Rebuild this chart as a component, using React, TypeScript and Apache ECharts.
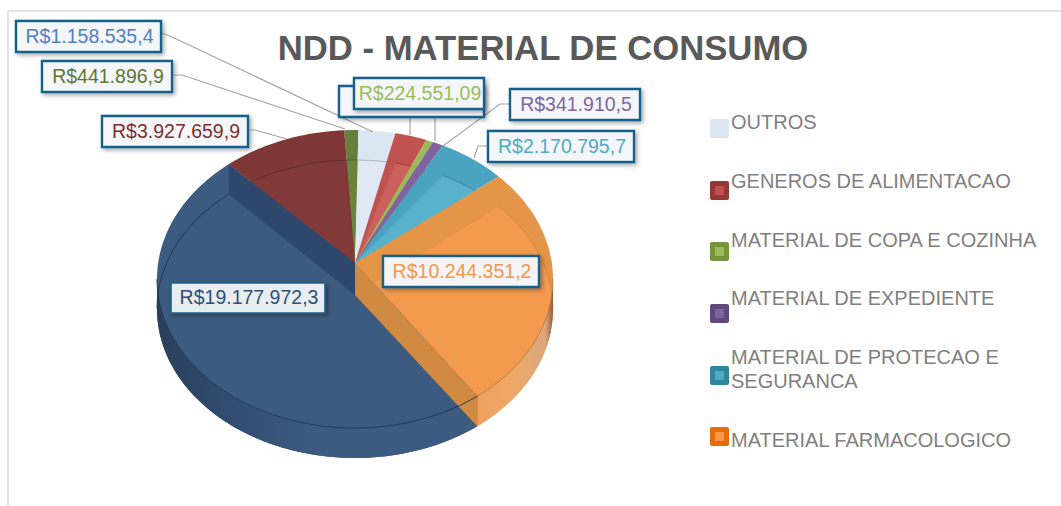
import React, { useEffect, useRef } from "react";
import * as echarts from "echarts";

const titleText = "NDD - MATERIAL DE CONSUMO";
const categories = [
  "OUTROS",
  "GENEROS DE ALIMENTACAO",
  "MATERIAL DE COPA E COZINHA",
  "MATERIAL DE EXPEDIENTE",
  "MATERIAL DE PROTECAO E\nSEGURANCA",
  "MATERIAL FARMACOLOGICO",
  "MATERIAL HOSPITALAR",
  "MATERIAL LABORATORIAL",
  "OUTROS MATERIAIS",
];
// The value of the second slice is hidden behind another label in the picture: estimated from its angle.
const values = [1158535.4, 1000000, 224551.09, 341910.5, 2170795.7, 10244351.2, 19177972.3, 3927659.9, 441896.9];
const labels = [
  "R$1.158.535,4",
  "",
  "R$224.551,09",
  "R$341.910,5",
  "R$2.170.795,7",
  "R$10.244.351,2",
  "R$19.177.972,3",
  "R$3.927.659,9",
  "R$441.896,9",
];

// styles
const faceColors = ["#DCE6F2", "#C0524F", "#9BBB59", "#8064A2", "#4AA3BF", "#E59548", "#3D5B80", "#7E3735", "#667F3A"];
const floorColors = ["#DFE8F3", "#CB605D", "#A2C160", "#8A6FAB", "#58B2CB", "#F39A4F", "#3D5B80", "#823A38", "#6A843C"];
const textColors = ["#4F81BD", "", "#9BBB59", "#8064A2", "#4BACC6", "#F79646", "#2F4F7A", "#7E2F2D", "#5F7530"];
const legendBorder = ["#DCE6F2", "#953735", "#77933C", "#604A7B", "#31859C", "#E46C0A"];
const legendInner = ["#DCE6F2", "#C0504D", "#9BBB59", "#8064A2", "#4BACC6", "#F79646"];

// layout
const cx = 355, cy = 279, rx = 198, ry = 149, depth = 30, apexY = 263, apexFloorY = 295;
const startAngle = (1 * Math.PI) / 180;
const legendRowY = [119, 181, 242, 304, 366, 427];
const legendTextY = [122, 181, 240, 298, 369, 440];
// [left, top, width, height] per label
const boxes: Record<number, number[]> = {
  0: [16, 21, 145, 31],
  8: [42, 61, 130, 31],
  7: [102, 116, 146, 31],
  2: [354, 78, 130, 31],
  3: [510, 89, 130, 31],
  4: [488, 131, 146, 31],
  5: [383, 256, 156, 31],
  6: [171, 283, 154, 30],
};
const leaders = [
  [[161, 33], [170, 36], [373, 132]],
  [[172, 75], [182, 75], [345, 129]],
  [[248, 130], [255, 130], [287, 139]],
  [[410, 117], [410, 135]],
  [[435, 117], [435, 141]],
  [[510, 104], [500, 104], [443, 146]],
  [[488, 146], [478, 146], [474, 158]],
];

const total = values.reduce((a, b) => a + b, 0);
const topPt = (t: number) => [cx + rx * Math.sin(t), cy - ry * Math.cos(t)];
const floorPt = (t: number) => [cx + rx * Math.sin(t), cy + depth - ry * Math.cos(t)];
function arc(a: number, b: number, f: (t: number) => number[]) {
  const n = Math.max(2, Math.ceil(Math.abs(b - a) / 0.03));
  const pts: number[][] = [];
  for (let i = 0; i <= n; i++) pts.push(f(a + ((b - a) * i) / n));
  return pts;
}
const orders = [3, 4, 5, 6, 7, 8, 11, 2, 1];
const RIGHT = Math.PI / 2;
const LEFT = (3 * Math.PI) / 2;

function renderItem(params: any, api: any) {
  const i = params.dataIndex;
  let before = 0;
  for (let k = 0; k < i; k++) before += values[k];
  const a = startAngle + (before / total) * Math.PI * 2;
  const b = a + (api.value(0) / total) * Math.PI * 2;
  const base = orders[i] * 10;
  const front = i === 5 || i === 6;
  const kids: any[] = [];
  const poly = (points: number[][], fill: any, z: number) =>
    kids.push({ type: "polygon", z2: base + z, shape: { points }, style: { fill } });
  const line = (points: number[][], stroke: string, z: number, width = 1) =>
    kids.push({ type: "polyline", z2: base + z, shape: { points }, style: { stroke, lineWidth: width, fill: "none" } });

  poly([[cx, apexY], ...arc(a, b, topPt)], faceColors[i], 0);
  poly([[cx, front ? apexFloorY : apexY], ...arc(a, b, floorPt)], floorColors[i], 1);
  if (!front) line(arc(a, b, floorPt), "rgba(0,0,0,0.22)", 2);

  if (front) {
    // the side wall is visible only on the near half of the pie
    const from = Math.max(a, RIGHT);
    const to = Math.min(b, LEFT);
    const topArc = arc(from, to, topPt);
    const floorArc = arc(from, to, floorPt);
    const fill =
      i === 6
        ? { type: "linear", x: 0, y: 0, x2: 1, y2: 0, colorStops: [
            { offset: 0, color: "#2A3E5C" }, { offset: 0.22, color: "#324C70" }, { offset: 0.5, color: "#3D5B80" }, { offset: 1, color: "#3D5B80" } ] }
        : { type: "linear", x: 0, y: 0, x2: 1, y2: 0, colorStops: [
            { offset: 0, color: "#EFA05C" }, { offset: 0.5, color: "#EDA869" }, { offset: 0.9, color: "#D9A77C" }, { offset: 1, color: "#9A5A3A" } ] };
    poly([...topArc, ...floorArc.slice().reverse()], fill, 2);
    line(topArc, i === 6 ? "#223A5C" : "rgba(150,95,50,0.5)", 3);
    // the far part of the rim shows as a thin inner line
    if (i === 6) line(arc(LEFT, b, floorPt), "rgba(20,40,70,0.7)", 3);
    if (i === 5) line(arc(a, RIGHT, floorPt), "rgba(170,110,60,0.35)", 3);
  }
  if (i === 6) {
    // end edge of the large slice
    poly([[cx, apexY], topPt(b), floorPt(b), [cx, apexFloorY]], "#2E476D", 4);
  }
  if (i === 5) {
    // start-side inner wall lying on the neighbouring slice
    poly([[cx, apexY], topPt(b), floorPt(b), [cx, apexFloorY]], "#D08A42", 80);
    kids.push({ type: "polyline", z2: 300, shape: { points: arc(b, b + 0.19, topPt) }, style: { stroke: "#223A5C", lineWidth: 1, fill: "none" } });
  }
  return { type: "group", children: kids };
}

function buildGraphic() {
  const g: any[] = [];
  g.push({ type: "polyline", z: 1, shape: { points: [[1061, 11], [8, 11], [8, 506]] }, style: { stroke: "#D9D9D9", lineWidth: 1.5, fill: "none" }, silent: true });
  leaders.forEach((points) =>
    g.push({ type: "polyline", z: 10, shape: { points }, style: { stroke: "#A6A6A6", lineWidth: 1.2, fill: "none" }, silent: true })
  );
  // empty label box behind the R$224.551,09 one
  g.push({
    type: "rect", z: 11, shape: { x: 339, y: 86, width: 145, height: 31 },
    style: { fill: "rgba(246,248,251,0.95)", stroke: "#17618A", lineWidth: 2.4, shadowBlur: 4, shadowOffsetX: 2, shadowOffsetY: 2, shadowColor: "rgba(0,0,0,0.35)" },
  });
  let z = 12;
  Object.keys(boxes).forEach((key) => {
    const i = Number(key);
    const [x, y, width, height] = boxes[i];
    g.push({
      type: "rect", z: z++, shape: { x, y, width, height },
      style: { fill: i === 6 ? "rgba(240,244,247,0.95)" : "rgba(246,248,251,0.97)", stroke: "#17618A", lineWidth: i === 6 ? 1.6 : 2.4, shadowBlur: 4, shadowOffsetX: 2, shadowOffsetY: 2, shadowColor: "rgba(0,0,0,0.35)" },
    });
    g.push({
      type: "text", z: z++, x: x + width / 2 + 1, y: y + height / 2 - 1,
      style: { text: labels[i], fill: textColors[i], font: "19.5px 'Liberation Sans'", textAlign: "center", textVerticalAlign: "middle" },
    });
  });
  legendRowY.forEach((y, i) => {
    g.push({ type: "rect", z: 5, shape: { x: 710, y, width: 19, height: 19, r: 2 }, style: { fill: legendBorder[i] } });
    g.push({ type: "rect", z: 6, shape: { x: 715, y: y + 5, width: 9, height: 9 }, style: { fill: legendInner[i] } });
    g.push({
      type: "text", z: 6, x: 731, y: legendTextY[i],
      style: { text: categories[i], fill: "#808080", font: "20px 'Liberation Sans'", lineHeight: 24, textAlign: "left", textVerticalAlign: "middle" },
    });
  });
  return g;
}

export default function App() {
  const ref = useRef<HTMLDivElement>(null);
  useEffect(() => {
    const chart = echarts.init(ref.current!, undefined, { renderer: "svg" });
    chart.setOption({
      animation: false,
      backgroundColor: "#fff",
      title: {
        text: titleText, left: 538, top: 25, textAlign: "center",
        textStyle: { fontFamily: "Liberation Sans", fontWeight: "bold", fontSize: 34.7, color: "#595959" },
      },
      series: [
        {
          type: "custom", coordinateSystem: "none", renderItem, silent: true,
          data: values.map((value, i) => ({ name: categories[i], value: [value] })),
        },
      ],
      graphic: { elements: buildGraphic() },
    });
    return () => chart.dispose();
  }, []);
  return <div ref={ref} style={{ position: "absolute", left: 0, top: 0, width: 1061, height: 506 }} />;
}
